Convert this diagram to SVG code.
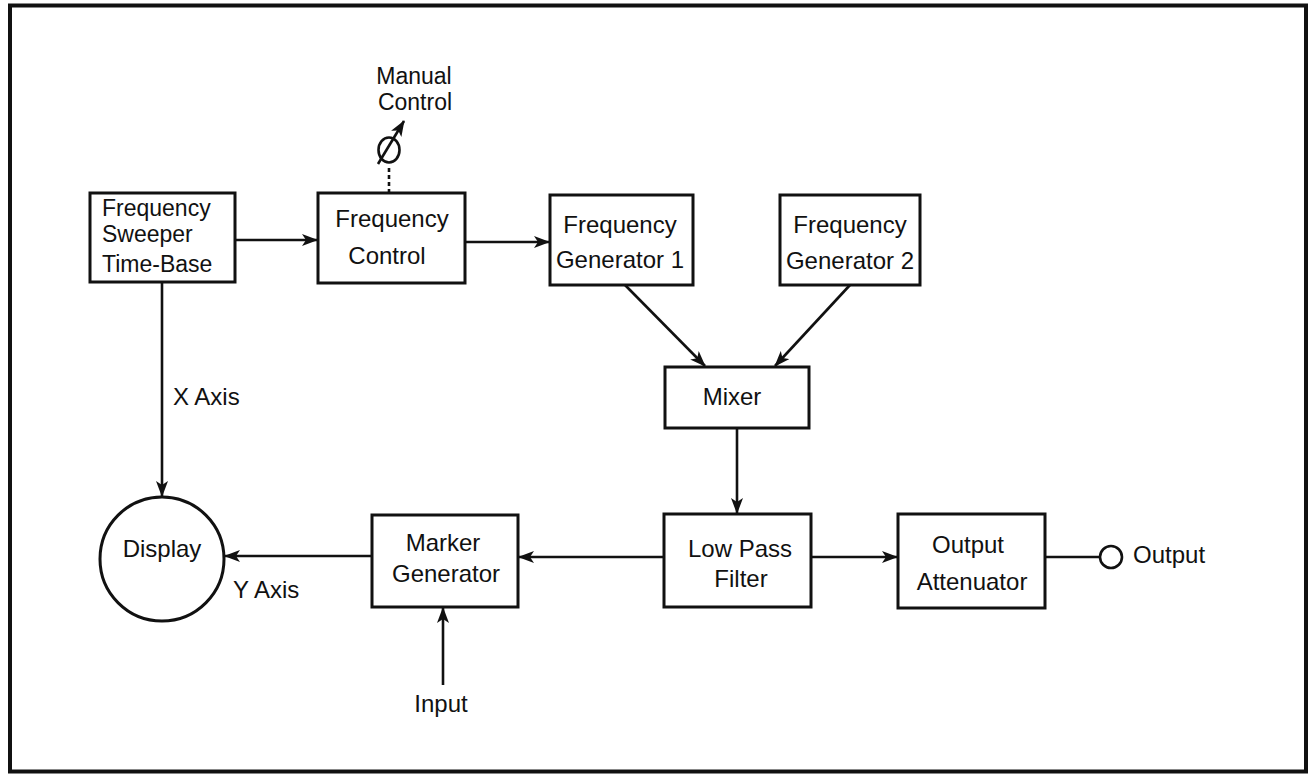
<svg xmlns="http://www.w3.org/2000/svg" width="1308" height="776" viewBox="0 0 1308 776">
<defs>
<style>
.box{fill:#fff;stroke:#111;stroke-width:3}
.ln{fill:none;stroke:#111;stroke-width:2.6}
.t{font-family:"Liberation Sans",Arial,Helvetica,sans-serif;font-size:24px;fill:#111}
.s{font-size:23px}
.c{text-anchor:middle}
</style>
<marker id="ah" viewBox="0 0 16 12" refX="15" refY="6" markerWidth="16" markerHeight="12" markerUnits="userSpaceOnUse" orient="auto">
<path d="M0,0 L16,6 L0,12 L4,6 z" fill="#111"/>
</marker>
</defs>
<rect x="10" y="5.5" width="1296" height="766" fill="#fff" stroke="#111" stroke-width="4"/>

<g id="connectors">
<line class="ln" x1="235" y1="240" x2="317" y2="240" marker-end="url(#ah)"/>
<line class="ln" x1="465" y1="242" x2="549" y2="242" marker-end="url(#ah)"/>
<line class="ln" x1="625" y1="285" x2="705" y2="366" marker-end="url(#ah)"/>
<line class="ln" x1="850" y1="285" x2="775" y2="366" marker-end="url(#ah)"/>
<line class="ln" x1="737" y1="428" x2="737" y2="513" marker-end="url(#ah)"/>
<line class="ln" x1="811" y1="557" x2="897" y2="557" marker-end="url(#ah)"/>
<line class="ln" x1="1045" y1="557" x2="1100" y2="557"/>
<line class="ln" x1="664" y1="557" x2="519" y2="557" marker-end="url(#ah)"/>
<line class="ln" x1="372" y1="556" x2="225" y2="556" marker-end="url(#ah)"/>
<line class="ln" x1="162" y1="282" x2="162" y2="496" marker-end="url(#ah)"/>
<line class="ln" x1="443" y1="685" x2="443" y2="608" marker-end="url(#ah)"/>
<line class="ln" x1="389" y1="193" x2="389" y2="165" stroke-width="3" stroke-dasharray="4,3"/>
</g>

<g id="manual-control">
<text class="t s c" x="414" y="84">Manual</text>
<text class="t s c" x="415" y="110">Control</text>
<ellipse cx="389" cy="150" rx="10.5" ry="12.5" fill="none" stroke="#111" stroke-width="2.6"/>
<line class="ln" x1="378" y1="164" x2="404" y2="121" marker-end="url(#ah)"/>
</g>

<g id="sweeper">
<rect class="box" x="90" y="193" width="145" height="89"/>
<text class="t s" x="102" y="216">Frequency</text>
<text class="t s" x="102" y="242">Sweeper</text>
<text class="t s" x="102" y="272">Time-Base</text>
</g>

<g id="freq-control">
<rect class="box" x="318" y="193" width="147" height="90"/>
<text class="t c" x="392" y="227">Frequency</text>
<text class="t c" x="387" y="264">Control</text>
</g>

<g id="gen1">
<rect class="box" x="550" y="195" width="143" height="90"/>
<text class="t c" x="620" y="233">Frequency</text>
<text class="t c" x="620" y="268">Generator 1</text>
</g>

<g id="gen2">
<rect class="box" x="780" y="195" width="140" height="90"/>
<text class="t c" x="850" y="233">Frequency</text>
<text class="t c" x="850" y="269">Generator 2</text>
</g>

<g id="mixer">
<rect class="box" x="665" y="367" width="144" height="61"/>
<text class="t c" x="732" y="405">Mixer</text>
</g>

<g id="lpf">
<rect class="box" x="664" y="514" width="147" height="93"/>
<text class="t c" x="740" y="557">Low Pass</text>
<text class="t c" x="741" y="587">Filter</text>
</g>

<g id="attenuator">
<rect class="box" x="898" y="514" width="147" height="94"/>
<text class="t c" x="968" y="553">Output</text>
<text class="t c" x="972" y="590">Attenuator</text>
</g>

<g id="output">
<circle cx="1111" cy="557" r="11" fill="#fff" stroke="#111" stroke-width="2.6"/>
<text class="t" x="1133" y="563">Output</text>
</g>

<g id="marker-gen">
<rect class="box" x="372" y="515" width="146" height="92"/>
<text class="t c" x="443" y="551">Marker</text>
<text class="t c" x="446" y="582">Generator</text>
</g>

<g id="display">
<circle cx="162" cy="559" r="62" fill="#fff" stroke="#111" stroke-width="3"/>
<text class="t c" x="162" y="557">Display</text>
</g>

<g id="labels">
<text class="t" x="173" y="405">X Axis</text>
<text class="t" x="233" y="598">Y Axis</text>
<text class="t c" x="441" y="712">Input</text>
</g>
</svg>
